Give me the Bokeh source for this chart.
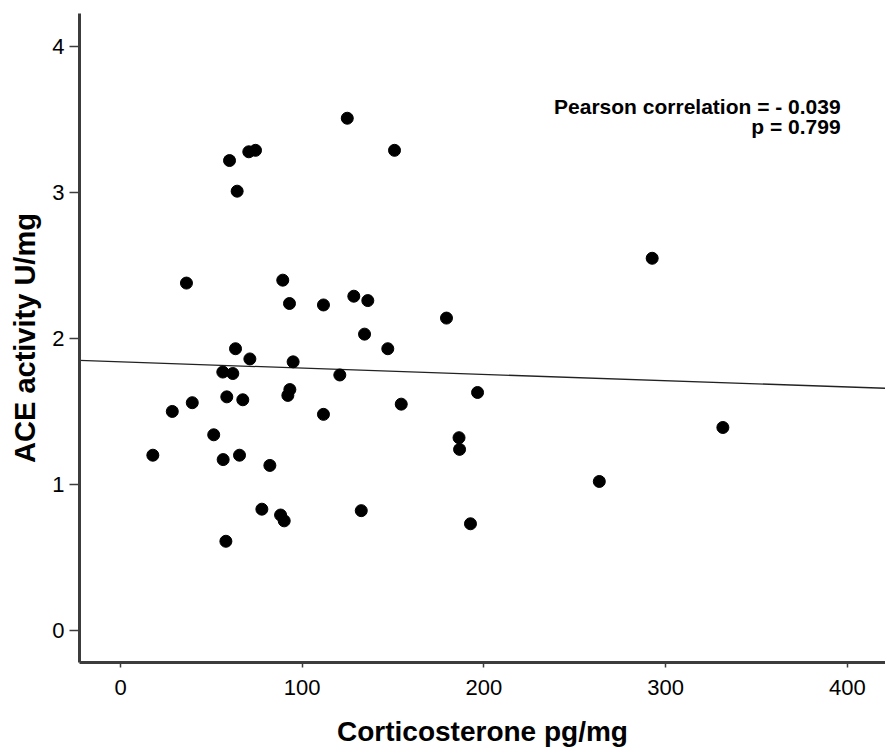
from bokeh.plotting import figure
from bokeh.models import ColumnDataSource, Range1d, FixedTicker
from bokeh.core.properties import value
from bokeh.embed import file_html
from bokeh.resources import INLINE

# ---- data ----
corticosterone = [124.8, 70.6, 74.3, 60.0, 64.2, 150.8, 36.3, 89.3, 93.0, 111.7,
                  128.4, 136.1, 179.4, 134.3, 147.1, 63.3, 71.2, 95.0, 120.7, 56.3,
                  61.8, 93.2, 92.1, 58.5, 67.3, 39.5, 28.5, 111.7, 196.5, 154.5,
                  51.3, 17.8, 56.5, 65.5, 82.2, 186.3, 186.6, 77.8, 88.1, 90.1,
                  58.0, 132.5, 192.6, 292.6, 331.5, 263.5]
ace_activity = [3.51, 3.28, 3.29, 3.22, 3.01, 3.29, 2.38, 2.40, 2.24, 2.23,
                2.29, 2.26, 2.14, 2.03, 1.93, 1.93, 1.86, 1.84, 1.75, 1.77,
                1.76, 1.65, 1.61, 1.60, 1.58, 1.56, 1.50, 1.48, 1.63, 1.55,
                1.34, 1.20, 1.17, 1.20, 1.13, 1.32, 1.24, 0.83, 0.79, 0.75,
                0.61, 0.82, 0.73, 2.55, 1.39, 1.02]

fit_intercept = 1.840
fit_slope = -0.00043

x_ticks = [0, 100, 200, 300, 400]
y_ticks = [0, 1, 2, 3, 4]

annotation_lines = ["Pearson correlation = - 0.039", "p = 0.799"]

x_title = "Corticosterone pg/mg"
y_title = "ACE activity U/mg"

# ---- figure ----
FONT = "Liberation Sans"
x_range = Range1d(-22.56, 421.0)
y_range = Range1d(-0.221, 4.228)

p = figure(width=885, height=749, x_range=x_range, y_range=y_range,
           output_backend="svg", toolbar_location=None,
           min_border_left=79, min_border_top=13, min_border_bottom=82,
           min_border_right=0)
p.outline_line_color = None
p.xgrid.grid_line_color = None
p.ygrid.grid_line_color = None
p.background_fill_color = "white"
p.border_fill_color = "white"

for ax in (p.xaxis[0], p.yaxis[0]):
    ax.axis_line_color = "#3c3c3c"
    ax.axis_line_width = 3
    ax.major_tick_line_color = "#3c3c3c"
    ax.major_tick_line_width = 1.5
    ax.major_tick_in = 0
    ax.minor_tick_line_color = None
    ax.major_label_text_font = FONT
    ax.major_label_text_font_size = "22px"
    ax.major_label_text_color = "black"
    ax.axis_label_text_font = FONT
    ax.axis_label_text_font_style = "bold"
    ax.axis_label_text_color = "black"

p.xaxis.axis_label_text_font_size = "28px"
p.yaxis.axis_label_text_font_size = "29px"
p.xaxis.ticker = FixedTicker(ticks=x_ticks)
p.yaxis.ticker = FixedTicker(ticks=y_ticks)
p.xaxis.major_tick_out = 5
p.xaxis.major_label_standoff = 12
p.yaxis.major_tick_out = 10
p.yaxis.major_label_standoff = 5
p.xaxis.axis_label = x_title
p.yaxis.axis_label = y_title
p.xaxis.axis_label_standoff = 18
p.yaxis.axis_label_standoff = 8

# regression line across the visible x range
lx = [x_range.start, x_range.end]
ly = [fit_intercept + fit_slope * v for v in lx]
p.line(lx, ly, line_color="#222222", line_width=1.3)

src = ColumnDataSource(dict(x=corticosterone, y=ace_activity))
p.scatter("x", "y", source=src, size=12, fill_color="black", line_color="black")

ann_x = 396.3
ann_y = [3.588, 3.452]
p.text(x=[ann_x, ann_x], y=ann_y, text=annotation_lines,
       text_align="right", text_baseline="alphabetic",
       text_font=value(FONT), text_font_size="21px", text_font_style="bold",
       text_color="black")

open("out.html", "w").write(file_html(p, INLINE))
